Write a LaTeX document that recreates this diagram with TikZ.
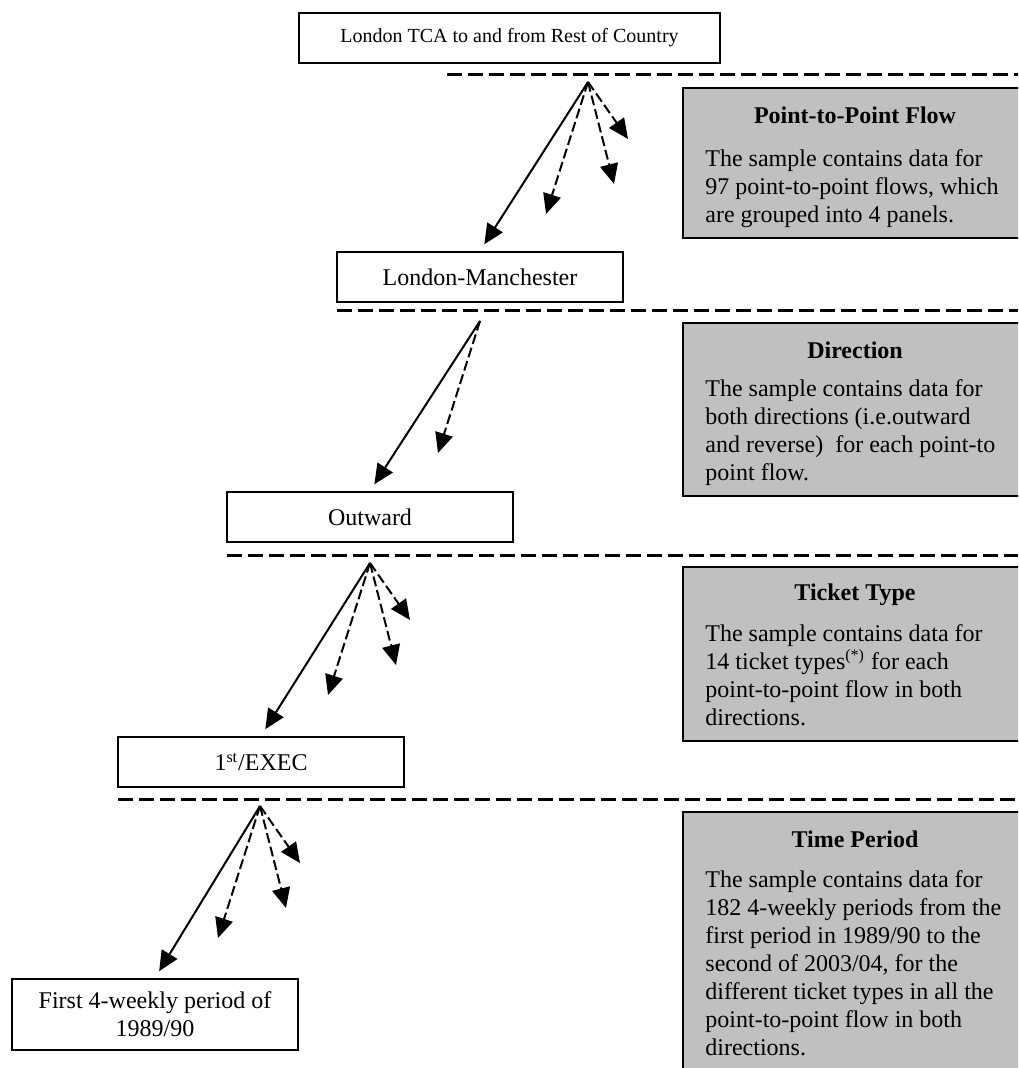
\documentclass[tikz,border=0pt]{standalone}
\usepackage{fontspec}
\setmainfont{Liberation Serif}
\usetikzlibrary{arrows.meta}
\definecolor{panelgray}{RGB}{192,192,192}

\begin{document}
\begin{tikzpicture}
      [x = 0.5pt, y = -0.5pt,
      box/.style = {
         draw,
         line width = 1pt,
         minimum width = 143pt,
         minimum height = 25pt,
         inner sep = 0pt,
         align = center,
         font = \fontsize{12}{14}\selectfont
      },
      panel/.style = {
         draw,
         fill = panelgray,
         line width = 1.2pt
      },
      head/.style = {inner sep = 0pt, font = \fontsize{12}{14}\selectfont\bfseries},
      note/.style = {anchor = north west, inner sep = 0pt, align = left,
         font = \fontsize{12}{14}\selectfont},
      level/.style = {line width = 1.5pt, dash pattern = on 7.5pt off 3pt},
      link/.style = {line width = 1pt, -{Triangle[length = 10pt, width = 9pt]},
         shorten > = 4pt},
      other/.style = {line width = 1pt, dash pattern = on 5pt off 2pt,
         -{Triangle[length = 10pt, width = 9pt]}}]

      \useasboundingbox (0, 0) rectangle (1018, 1068);

      % grey panels on the right
      \begin{scope}
         \clip (0, 0) rectangle (1018, 1068);
         \draw[panel] (683, 88) rectangle (1030, 238);
         \draw[panel] (683, 323) rectangle (1030, 496);
         \draw[panel] (683, 567) rectangle (1030, 741);
         \draw[panel] (683, 812) rectangle (1030, 1090);
      \end{scope}

      \node[head] (h1) at (855, 115) {Point-to-Point Flow};
      \node[note] (n1) at (705, 149) {The sample contains data for\\
         97 point-to-point flows, which\\are grouped into 4 panels.};
      \node[head] (h2) at (855, 350) {Direction};
      \node[note] (n2) at (705, 379) {The sample contains data for\\
         both directions (i.e.outward\\and reverse) \ for each point-to\\point flow.};
      \node[head] (h3) at (855, 595) {Ticket Type};
      \node[note] (n3) at (705, 624) {The sample contains data for\\
         14 ticket types\textsuperscript{(*)} for each\\point-to-point flow in both\\directions.};
      \node[head] (h4) at (855, 839) {Time Period};
      \node[note] (n4) at (705, 870) {The sample contains data for\\
         182 4-weekly periods from the\\first period in 1989/90 to the\\
         second of 2003/04, for the\\different ticket types in all the\\
         point-to-point flow in both\\directions.};

      % the chain of boxes
      \node[box, minimum width = 210.5pt, font = \fontsize{10}{12}\selectfont]
         (tca) at (509.5, 38) {London TCA to and from Rest of Country};
      \node[box] (flow) at (480, 277) {London-Manchester};
      \node[box] (dir) at (370, 517) {Outward};
      \node[box] (ticket) at (261, 762) {1\textsuperscript{st}/EXEC};
      \node[box, minimum height = 35.5pt] (period) at (155, 1014.5)
         {First 4-weekly period of\\1989/90};

      \draw[level] (447, 75) -- (1018, 75);
      \draw[level] (337, 311) -- (1018, 311);
      \draw[level] (227, 555) -- (1018, 555);
      \draw[level] (118, 799) -- (1018, 799);

      \coordinate (o1) at (588, 82);
      \coordinate (o2) at (480, 321);
      \coordinate (o3) at (370, 563);
      \coordinate (o4) at (260, 806);

      \coordinate (f1a) at (546, 214);
      \coordinate (f1b) at (614, 184);
      \coordinate (f1c) at (628, 139);
      \coordinate (f2a) at (438, 453);
      \coordinate (f3a) at (328, 695);
      \coordinate (f3b) at (396, 665);
      \coordinate (f3c) at (410, 620);
      \coordinate (f4a) at (218, 938);
      \coordinate (f4b) at (286, 908);
      \coordinate (f4c) at (300, 863);

      \draw[link] (o1) -- (flow.north);
      \draw[other] (o1) -- (f1a);
      \draw[other] (o1) -- (f1b);
      \draw[other] (o1) -- (f1c);

      \draw[link] (o2) -- (dir.north);
      \draw[other] (o2) -- (f2a);

      \draw[link] (o3) -- (ticket.north);
      \draw[other] (o3) -- (f3a);
      \draw[other] (o3) -- (f3b);
      \draw[other] (o3) -- (f3c);

      \draw[link] (o4) -- (period.north);
      \draw[other] (o4) -- (f4a);
      \draw[other] (o4) -- (f4b);
      \draw[other] (o4) -- (f4c);

   \end{tikzpicture}
\end{document}
